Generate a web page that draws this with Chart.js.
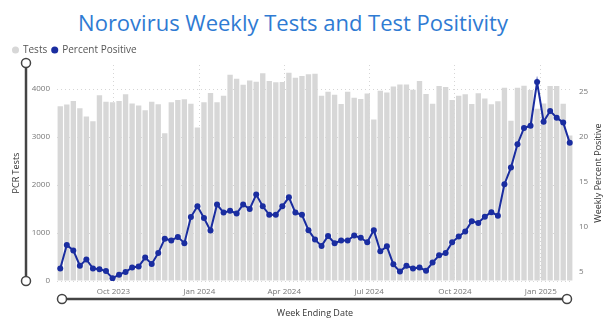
<!DOCTYPE html>
<html>
<head>
<meta charset="utf-8">
<script src="https://cdn.jsdelivr.net/npm/chart.js@4.4.1/dist/chart.umd.min.js"></script>
<style>
  body { margin: 0; background: #fff; }
  #wrap { position: relative; width: 613px; height: 327px; }
  #title {
    position: absolute; top: 9px; left: 0; width: 586px;
    text-align: center; font-family: 'Ink Free', 'Segoe Print', 'Open Sans', sans-serif;
    font-size: 22px; line-height: 26px; color: #2f7bd3;
  }
  canvas { position: absolute; top: 0; left: 0; }
</style>
</head>
<body>
<div id="wrap">
  <div id="title">Norovirus Weekly Tests and Test Positivity</div>
  <canvas id="noroChart" width="613" height="327"></canvas>
</div>
<script>
// week ending dates (Saturdays)
const weekEnding = [
  '2023-08-05','2023-08-12','2023-08-19','2023-08-26','2023-09-02','2023-09-09','2023-09-16','2023-09-23','2023-09-30',
  '2023-10-07','2023-10-14','2023-10-21','2023-10-28','2023-11-04','2023-11-11','2023-11-18','2023-11-25',
  '2023-12-02','2023-12-09','2023-12-16','2023-12-23','2023-12-30',
  '2024-01-06','2024-01-13','2024-01-20','2024-01-27','2024-02-03','2024-02-10','2024-02-17','2024-02-24',
  '2024-03-02','2024-03-09','2024-03-16','2024-03-23','2024-03-30','2024-04-06','2024-04-13','2024-04-20','2024-04-27',
  '2024-05-04','2024-05-11','2024-05-18','2024-05-25','2024-06-01','2024-06-08','2024-06-15','2024-06-22','2024-06-29',
  '2024-07-06','2024-07-13','2024-07-20','2024-07-27','2024-08-03','2024-08-10','2024-08-17','2024-08-24','2024-08-31',
  '2024-09-07','2024-09-14','2024-09-21','2024-09-28','2024-10-05','2024-10-12','2024-10-19','2024-10-26',
  '2024-11-02','2024-11-09','2024-11-16','2024-11-23','2024-11-30','2024-12-07','2024-12-14','2024-12-21','2024-12-28',
  '2025-01-04','2025-01-11','2025-01-18','2025-01-25','2025-02-01'
];

const pcrTests = [
  3640, 3675, 3750, 3600, 3425, 3330, 3870, 3735, 3725, 3750, 3890, 3700, 3655, 3555, 3735, 3680,
  3080, 3725, 3770, 3785, 3695, 3200, 3725, 3915, 3725, 3860, 4295, 4215, 4090, 4175, 4150, 4330,
  4165, 4140, 4145, 4340, 4235, 4270, 4305, 4320, 3860, 3945, 3880, 3690, 3945, 3820, 3790, 3905,
  3365, 3965, 3925, 4050, 4095, 4095, 3985, 4165, 3895, 3695, 4060, 4040, 3770, 3860, 3890, 3690,
  3910, 3800, 3680, 3745, 4025, 3340, 4025, 4070, 3980, 3590, 3700, 4060, 4060, 3695, 3030
];

const percentPositive = [
  5.4, 8.0, 7.4, 5.7, 6.4, 5.4, 5.3, 5.1, 4.3, 4.7, 5.0, 5.5, 5.6, 6.6, 5.9, 7.1,
  8.7, 8.5, 8.9, 8.2, 11.1, 12.3, 11.0, 9.6, 12.5, 11.6, 11.8, 11.5, 12.5, 12.0, 13.6, 12.3,
  11.35, 11.35, 12.3, 13.3, 11.6, 11.35, 9.65, 8.6, 7.9, 9.0, 8.2, 8.5, 8.5, 9.05, 8.8, 8.3,
  9.65, 7.3, 7.85, 5.85, 5.05, 5.7, 5.4, 5.5, 5.15, 6.05, 6.85, 7.1, 8.3, 8.95, 9.5, 10.65,
  10.45, 11.15, 11.65, 11.25, 14.75, 16.6, 19.2, 21.0, 21.25, 26.1, 21.7, 22.9, 22.15, 21.6, 19.35
];

// quarter ticks on the date axis
const tickDates = ['2023-10-01', '2024-01-01', '2024-04-01', '2024-07-01', '2024-10-01', '2025-01-01'];
const tickLabels = ['Oct 2023', 'Jan 2024', 'Apr 2024', 'Jul 2024', 'Oct 2024', 'Jan 2025'];

const testTicks = [0, 1000, 2000, 3000, 4000];
const pctTicks = [5, 10, 15, 20, 25];

const DAY = 86400000;
const xs = weekEnding.map(d => Date.parse(d));
const tickXs = tickDates.map(d => Date.parse(d));

const BAR_GREY = '#d7d7d7';
const LINE_BLUE = '#1a2da0';
const FONT = "'Segoe UI', 'Open Sans', sans-serif";

// Power BI style range sliders + right axis title (reads bottom-to-top)
const extras = {
  id: 'extras',
  afterDraw(chart) {
    const { ctx, chartArea } = chart;
    ctx.save();
    ctx.strokeStyle = '#444';
    const knob = (x, y) => {
      ctx.beginPath();
      ctx.arc(x, y, 4.5, 0, Math.PI * 2);
      ctx.fillStyle = '#fff';
      ctx.fill();
      ctx.lineWidth = 1.5;
      ctx.stroke();
    };
    // vertical slider
    ctx.lineWidth = 2.5;
    ctx.beginPath();
    ctx.moveTo(26, 63); ctx.lineTo(26, 281);
    ctx.stroke();
    knob(26, 63); knob(26, 281);
    // horizontal slider
    ctx.lineWidth = 2.5;
    ctx.beginPath();
    ctx.moveTo(62, 299); ctx.lineTo(567, 299);
    ctx.stroke();
    knob(62, 299); knob(567, 299);

    ctx.translate(598, (chartArea.top + chartArea.bottom) / 2);
    ctx.rotate(-Math.PI / 2);
    ctx.fillStyle = '#333';
    ctx.font = '9px ' + FONT;
    ctx.textAlign = 'center';
    ctx.textBaseline = 'middle';
    ctx.fillText('Weekly Percent Positive', 0, 0);
    ctx.restore();
  }
};

new Chart(document.getElementById('noroChart'), {
  type: 'bar',
  data: {
    datasets: [
      {
        type: 'bar',
        label: 'Tests',
        data: pcrTests.map((v, i) => ({ x: xs[i], y: v })),
        backgroundColor: BAR_GREY,
        borderWidth: 0,
        categoryPercentage: 0.82,
        barPercentage: 1,
        yAxisID: 'y',
        order: 2
      },
      {
        type: 'line',
        label: 'Percent Positive',
        data: percentPositive.map((v, i) => ({ x: xs[i], y: v })),
        borderColor: LINE_BLUE,
        backgroundColor: LINE_BLUE,
        borderWidth: 2,
        pointRadius: 3,
        pointBackgroundColor: LINE_BLUE,
        pointBorderWidth: 0,
        tension: 0,
        yAxisID: 'y1',
        order: 1
      }
    ]
  },
  options: {
    responsive: false,
    animation: false,
    layout: { padding: { top: 40, left: 8, right: 0, bottom: 0 } },
    plugins: {
      legend: {
        position: 'top',
        align: 'start',
        labels: {
          usePointStyle: true,
          pointStyle: 'circle',
          boxWidth: 5,
          boxHeight: 5,
          padding: 5,
          color: '#555',
          font: { family: FONT, size: 10 },
          sort: (a, b) => a.datasetIndex - b.datasetIndex
        }
      },
      tooltip: { enabled: false }
    },
    scales: {
      x: {
        type: 'linear',
        offset: false,
        min: xs[0] - 3.5 * DAY,
        max: xs[xs.length - 1] + 3.5 * DAY,
        afterBuildTicks: s => { s.ticks = tickXs.map(v => ({ value: v })); },
        afterFit: s => { s.height = 46; },
        ticks: {
          autoSkip: false,
          maxRotation: 0,
          padding: 6,
          color: '#777',
          font: { family: FONT, size: 8 },
          callback: (v, i) => tickLabels[i]
        },
        grid: { color: '#d6d6d6', drawTicks: false, offset: false },
        border: { display: false, dash: [1, 3] },
        title: {
          display: true,
          text: 'Week Ending Date',
          color: '#333',
          font: { family: FONT, size: 9 },
          padding: { top: 0, bottom: 8 }
        }
      },
      y: {
        position: 'left',
        min: 0,
        max: 4500,
        afterBuildTicks: s => { s.ticks = testTicks.map(v => ({ value: v })); },
        afterFit: s => { s.width = 49; },
        ticks: {
          padding: 7,
          color: '#777',
          font: { family: FONT, size: 8 },
          callback: v => String(v)
        },
        grid: { color: '#d6d6d6', drawTicks: false },
        border: { display: false, dash: [1, 3] },
        title: {
          display: true,
          text: 'PCR Tests',
          color: '#333',
          font: { family: FONT, size: 9 },
          padding: { top: 2.6, bottom: 0 }
        }
      },
      y1: {
        position: 'right',
        min: 4,
        max: 28,
        afterBuildTicks: s => { s.ticks = pctTicks.map(v => ({ value: v })); },
        afterFit: s => { s.width = 40; },
        ticks: {
          padding: 6,
          color: '#777',
          font: { family: FONT, size: 8 },
          callback: v => String(v)
        },
        grid: { display: false, drawTicks: false },
        border: { display: false }
      }
    }
  },
  plugins: [extras]
});
</script>
</body>
</html>
